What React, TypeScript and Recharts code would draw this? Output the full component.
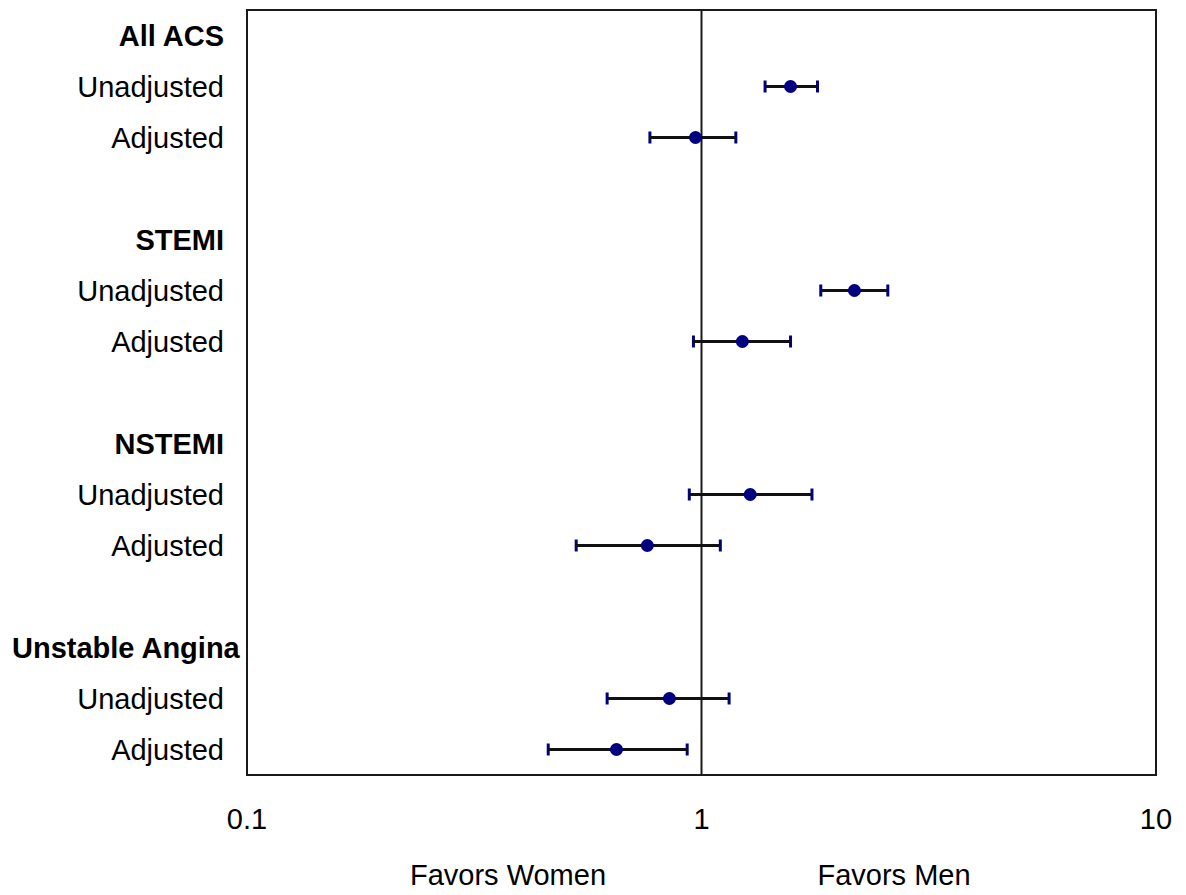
import { ScatterChart, Scatter, XAxis, YAxis, ErrorBar, ReferenceLine, ReferenceArea } from 'recharts';

// row labels, top to bottom (blank rows separate the groups)
const rowLabels = [
  'All ACS', 'Unadjusted', 'Adjusted', '',
  'STEMI', 'Unadjusted', 'Adjusted', '',
  'NSTEMI', 'Unadjusted', 'Adjusted', '',
  'Unstable Angina', 'Unadjusted', 'Adjusted',
];
const headerRows = [0, 4, 8, 12];

// odds ratios with 95% CI
const estRows = [1, 2, 5, 6, 9, 10, 13, 14];
const ratio = [1.57, 0.97, 2.17, 1.23, 1.28, 0.76, 0.85, 0.65];
const lower = [1.38, 0.77, 1.83, 0.96, 0.94, 0.53, 0.62, 0.46];
const upper = [1.80, 1.19, 2.57, 1.57, 1.75, 1.10, 1.15, 0.93];

const xTicks = [0.1, 1, 10];
const yTicks = rowLabels.map((l, i) => (l ? i : -1)).filter((i) => i >= 0);

const data = estRows.map((row, i) => ({
  row,
  ratio: ratio[i],
  err: [ratio[i] - lower[i], upper[i] - ratio[i]],
}));

const FONT = '"Liberation Sans", Arial, sans-serif';
const FS = 29;

function YTick({ x, y, payload }: any) {
  const label = rowLabels[payload.value] ?? '';
  const bold = headerRows.includes(payload.value);
  const long = label.length > 10;
  return (
    <text
      x={long ? 12 : x - 23}
      y={y}
      dy="0.36em"
      textAnchor={long ? 'start' : 'end'}
      fontSize={FS}
      fontWeight={bold ? 700 : 400}
      fontFamily={FONT}
      fill="#000"
    >
      {label}
    </text>
  );
}

function XTick({ x, y, payload }: any) {
  return (
    <text x={x} y={y + 54} textAnchor="middle" fontSize={FS} fontFamily={FONT} fill="#000">
      {String(payload.value)}
    </text>
  );
}

export default function App() {
  return (
    <div style={{ margin: -8, position: 'relative', width: 1186, height: 895, background: '#fff', fontFamily: FONT }}>
      <ScatterChart width={1186} height={895} margin={{ top: 10, right: 30, bottom: 0, left: 0 }}>
        <XAxis
          type="number"
          dataKey="ratio"
          scale="log"
          domain={[0.1, 10]}
          ticks={xTicks}
          allowDataOverflow
          height={120}
          tickLine={false}
          tickSize={0}
          tickMargin={0}
          axisLine={false}
          tick={<XTick />}
        />
        <YAxis
          type="number"
          dataKey="row"
          domain={[-0.5, 14.5]}
          reversed
          ticks={yTicks}
          interval={0}
          width={247}
          tickLine={false}
          tickSize={0}
          tickMargin={0}
          axisLine={false}
          tick={<YTick />}
        />
        <ReferenceArea x1={0.1} x2={10} y1={-0.5} y2={14.5} fill="none" stroke="#1a1a1a" strokeWidth={2} fillOpacity={0} />
        <ReferenceLine x={1} stroke="#1a1a1a" strokeWidth={2} />
        <Scatter
          data={data}
          fill="#000080"
          isAnimationActive={false}
          shape={(p: any) => <circle cx={p.cx} cy={p.cy} r={6.5} fill="#000080" />}
        >
          <ErrorBar dataKey="err" direction="x" width={6} stroke="#000080" strokeWidth={3} />
          <ErrorBar dataKey="err" direction="x" width={0} stroke="#111" strokeWidth={3} />
        </Scatter>
      </ScatterChart>
      <div style={{ position: 'absolute', left: 508, top: 861, transform: 'translateX(-50%)', fontSize: FS, lineHeight: '28px', whiteSpace: 'nowrap', color: '#000' }}>
        Favors Women
      </div>
      <div style={{ position: 'absolute', left: 894, top: 861, transform: 'translateX(-50%)', fontSize: FS, lineHeight: '28px', whiteSpace: 'nowrap', color: '#000' }}>
        Favors Men
      </div>
    </div>
  );
}
